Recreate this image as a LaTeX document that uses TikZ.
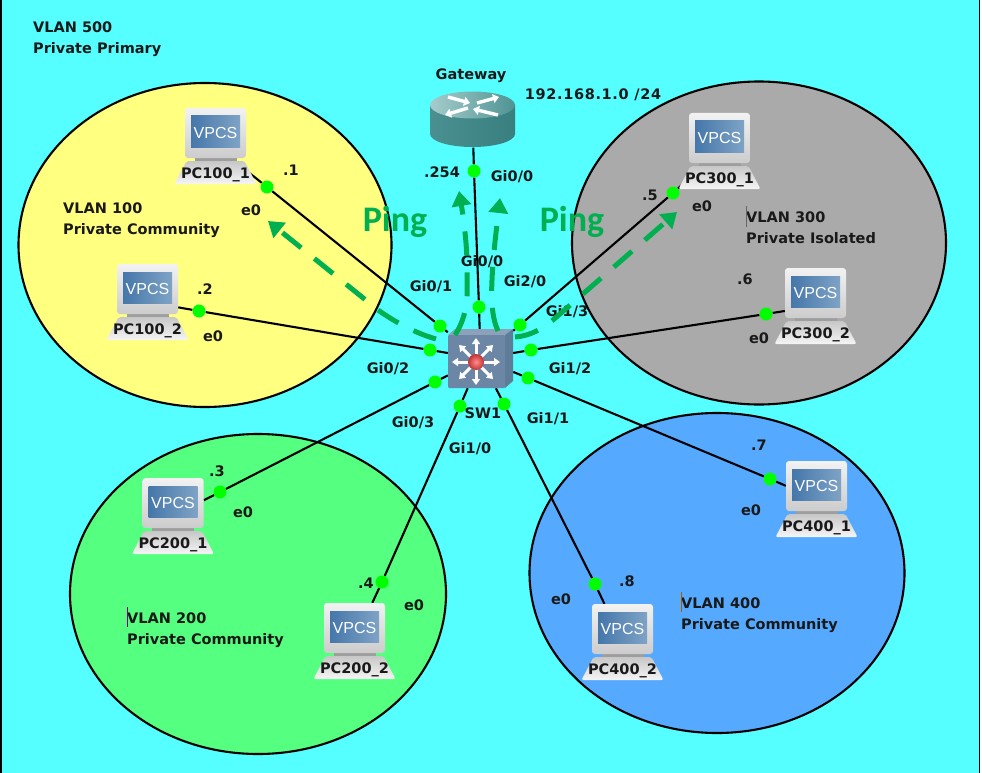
\documentclass[tikz,border=0pt]{standalone}
\usepackage{fontspec}
\setmainfont{DejaVu Sans}
\newfontfamily\pingfont{Carlito}
\newfontfamily\vpcsfont{Liberation Sans}
\usepackage{tikz}
\usetikzlibrary{shapes.geometric, arrows.meta, backgrounds}
\definecolor{lancyan}{HTML}{55FFFF}
\definecolor{vlanyellow}{HTML}{FFFF80}
\definecolor{vlangray}{HTML}{AAAAAA}
\definecolor{vlangreen}{HTML}{55FF80}
\definecolor{vlanblue}{HTML}{55AAFF}
\definecolor{pinggreen}{HTML}{00B050}
\definecolor{portgreen}{HTML}{00FF00}
\definecolor{screendark}{HTML}{4577AA}
\definecolor{screenlight}{HTML}{7FA3C6}
\definecolor{swfront}{HTML}{6C87A6}
\definecolor{swtop}{HTML}{8DA2BA}
\definecolor{swside}{HTML}{5E7B98}
\definecolor{rtdark}{HTML}{3A7F7F}
\definecolor{rtmid}{HTML}{4A9090}
\definecolor{rttop}{HTML}{4F9393}
\definecolor{rtlight}{HTML}{A5CCCC}
\tikzstyle{vlanarea} = [ellipse, draw=black, line width=2.1pt, inner sep=0pt]
\tikzstyle{link} = [draw=black, line width=2.1pt]
\tikzstyle{port} = [circle, fill=portgreen, minimum size=13pt, inner sep=0pt]
\tikzstyle{lbl} = [font=\bfseries\fontsize{14.5}{21}\selectfont, text=black!90, inner sep=0pt]
\tikzstyle{vlanlbl} = [lbl, align=left, anchor=north west]
\tikzstyle{pinglbl} = [font=\pingfont\bfseries\fontsize{36}{36}\selectfont, text=pinggreen, inner sep=0pt]
\tikzstyle{ping} = [draw=pinggreen, line width=5pt, dash pattern=on 24pt off 17pt, -{Triangle[width=19pt,length=15pt]}]
\tikzstyle{swarrow} = [draw=white, line width=3pt, -{Triangle[width=8pt,length=6pt]}]
\tikzstyle{rtarrow} = [draw=white, line width=3.4pt, -{Triangle[width=9pt,length=6pt]}]
\tikzstyle{marker} = [line width=0.8pt]

% one VPCS icon: name, centre x, top y, label
\newcommand{\vpcs}[4]{
  \begin{scope}[shift={(#2,#3)}]
    \node (#1) [minimum width=61pt, minimum height=76pt, inner sep=0pt] at (0,38) {};
    \fill [black!38] (-21,48) rectangle (21,55);
    \shade [top color=black!22, bottom color=black!4, rounded corners=2pt] (-29,53) -- (29,53) -- (41,76) -- (-41,76) -- cycle;
    \shade [top color=black!5, bottom color=black!20, rounded corners=3pt] (-30.5,0) rectangle (30.5,50);
    \shade [left color=screendark, right color=screenlight] (-24.5,8) rectangle (24.5,39);
    \node (#1s) [font=\vpcsfont\fontsize{16}{16}\selectfont, text=white, inner sep=0pt] at (0,25) {VPCS};
    \node (#1l) [lbl] at (0,67) {#4};
  \end{scope}
}

\begin{document}
\begin{tikzpicture}[x=1pt, y=-1pt]
  \useasboundingbox (0,0) rectangle (982,773);

  % Router
  \node (gw) [minimum width=85pt, minimum height=55pt, inner sep=0pt] at (472.5,120) {};
  \shade [left color=rtmid, right color=rtdark] (430,105) -- (430,134) arc [start angle=180, end angle=0, x radius=42.5, y radius=13] -- (515,105) -- cycle;
  \shade [left color=rtlight, right color=rttop] (472.5,105) ellipse [x radius=42.5, y radius=13.5];
  \draw [rtarrow] (448,97) -- (470,103);
  \draw [rtarrow] (477,103) -- (499,97);
  \draw [rtarrow] (468,108) -- (445,115);
  \draw [rtarrow] (498,115) -- (473,109);

  % Switch
  \node (sw) [minimum width=65pt, minimum height=59pt, inner sep=0pt] at (480.5,358.5) {};
  \fill [swtop] (448,335) -- (455,329) -- (513,329) -- (505,335) -- cycle;
  \fill [swside] (505,335) -- (513,329) -- (513,381) -- (505,388) -- cycle;
  \fill [swfront, rounded corners=1pt] (448,335) rectangle (505,388);
  \draw [swarrow] (476,362) -- (500,362);
  \draw [swarrow] (476,362) -- (452,362);
  \draw [swarrow] (476,362) -- (476,338);
  \draw [swarrow] (476,362) -- (476,385);
  \draw [swarrow] (476,362) -- (493,345);
  \draw [swarrow] (476,362) -- (459,345);
  \draw [swarrow] (476,362) -- (493,379);
  \draw [swarrow] (476,362) -- (459,379);
  \shade [inner color=red!45!white, outer color=red!70!black!80!white] (476,362) circle (8);

  % VPCS hosts
  \vpcs{pc100a}{215.5}{108}{PC100\_1}
  \vpcs{pc100b}{147.5}{264}{PC100\_2}
  \vpcs{pc200a}{173}{478}{PC200\_1}
  \vpcs{pc200b}{354.5}{603}{PC200\_2}
  \vpcs{pc300a}{719.5}{113}{PC300\_1}
  \vpcs{pc300b}{815.5}{268}{PC300\_2}
  \vpcs{pc400a}{816.5}{461}{PC400\_1}
  \vpcs{pc400b}{622.5}{604}{PC400\_2}

  % Ports
  \node (dgw) [port] at (474,171) {};
  \node (sgw) [port] at (479,307) {};
  \node (d100a) [port] at (267,187) {};
  \node (s100a) [port] at (440,326) {};
  \node (d100b) [port] at (199,311) {};
  \node (s100b) [port] at (430,350) {};
  \node (d200a) [port] at (220,492) {};
  \node (s200a) [port] at (435,382) {};
  \node (d200b) [port] at (382,582) {};
  \node (s200b) [port] at (460,406) {};
  \node (d300a) [port] at (673,193) {};
  \node (s300a) [port] at (520,325) {};
  \node (d300b) [port] at (766,314) {};
  \node (s300b) [port] at (531,350) {};
  \node (d400a) [port] at (770,479) {};
  \node (s400a) [port] at (528,378) {};
  \node (d400b) [port] at (595,584) {};
  \node (s400b) [port] at (504,404) {};

  % Areas and links stay behind the icons
  \begin{scope}[on background layer]
    \fill [lancyan] (0,0) rectangle (980,773);
    \fill [white] (980,0) rectangle (982,773);
    \draw [line width=1.6pt] (1,0) -- (1,773);
    \draw [line width=1.6pt] (979.5,0) -- (979.5,773);
    \node (vlan100) [vlanarea, fill=vlanyellow, minimum width=373pt, minimum height=324pt] at (205,245) {};
    \node (vlan300) [vlanarea, fill=vlangray, minimum width=374pt, minimum height=323pt] at (759,243) {};
    \node (vlan200) [vlanarea, fill=vlangreen, minimum width=376pt, minimum height=320pt] at (258,594) {};
    \node (vlan400) [vlanarea, fill=vlanblue, minimum width=375pt, minimum height=320pt] at (717,573) {};
    \draw [link] (gw) -- (dgw) -- (sgw) -- (sw);
    \draw [link] (pc100a) -- (d100a) -- (s100a) -- (sw);
    \draw [link] (pc100b) -- (d100b) -- (s100b) -- (sw);
    \draw [link] (pc200a) -- (d200a) -- (s200a) -- (sw);
    \draw [link] (pc200b) -- (d200b) -- (s200b) -- (sw);
    \draw [link] (pc300a) -- (d300a) -- (s300a) -- (sw);
    \draw [link] (pc300b) -- (d300b) -- (s300b) -- (sw);
    \draw [link] (pc400a) -- (d400a) -- (s400a) -- (sw);
    \draw [link] (pc400b) -- (d400b) -- (s400b) -- (sw);
  \end{scope}

  % Area names
  \node (t500) [vlanlbl] at (33,22) {VLAN 500\\Private Primary};
  \node (t100) [vlanlbl] at (63,203) {VLAN 100\\Private Community};
  \node (t200) [vlanlbl] at (127,613) {VLAN 200\\Private Community};
  \node (t300) [vlanlbl] at (746,212) {VLAN 300\\Private Isolated};
  \node (t400) [vlanlbl] at (681,598) {VLAN 400\\Private Community};
  \draw [marker, draw=violet] (127.5,607) -- (127.5,627);
  \draw [marker, draw=black!60] (746.5,206) -- (746.5,227);
  \draw [marker, draw=orange!70!black] (681.5,592) -- (681.5,612);

  % Top labels
  \node (tgw) [lbl] at (471,76) {Gateway};
  \node (tnet) [lbl] at (593,95) {\addfontfeature{LetterSpace=4.5}192.168.1.0 /24};
  \node (t254) [lbl] at (442,172) {.254};
  \node (tgw0) [lbl] at (512,177) {Gi0/0};
  \node (tsw) [lbl] at (483,413) {SW1};

  % Switch port labels
  \node (gi00) [lbl] at (482,262) {Gi0/0};
  \node (gi01) [lbl] at (431,287) {Gi0/1};
  \node (gi20) [lbl] at (525,282) {Gi2/0};
  \node (gi13) [lbl] at (567,312) {Gi1/3};
  \node (gi12) [lbl] at (570,369) {Gi1/2};
  \node (gi02) [lbl] at (388,369) {Gi0/2};
  \node (gi03) [lbl] at (413,423) {Gi0/3};
  \node (gi10) [lbl] at (470,449) {Gi1/0};
  \node (gi11) [lbl] at (548,419) {Gi1/1};

  % Host addresses
  \node (ip1) [lbl] at (291,170) {.1};
  \node (e1) [lbl] at (251,210) {e0};
  \node (ip2) [lbl] at (205,289) {.2};
  \node (e2) [lbl] at (213,336) {e0};
  \node (ip3) [lbl] at (217,471) {.3};
  \node (e3) [lbl] at (243,512) {e0};
  \node (ip4) [lbl] at (366,583) {.4};
  \node (e4) [lbl] at (414,605) {e0};
  \node (ip5) [lbl] at (650,195) {.5};
  \node (e5) [lbl] at (702,206) {e0};
  \node (ip6) [lbl] at (745,279) {.6};
  \node (e6) [lbl] at (759,338) {e0};
  \node (ip7) [lbl] at (759,445) {.7};
  \node (e7) [lbl] at (751,510) {e0};
  \node (ip8) [lbl] at (627,581) {.8};
  \node (e8) [lbl] at (561,599) {e0};

  % Ping paths
  \node (ping1) [pinglbl] at (395,222) {Ping};
  \node (ping2) [pinglbl] at (572,222) {Ping};
  \coordinate (tip100) at (268,221);
  \coordinate (tipgwa) at (459,191);
  \coordinate (tipgwb) at (500,198);
  \coordinate (tip300) at (677,212);
  \draw [ping] (436,339) .. controls (415,333) and (395,322) .. (378,310) -- (tip100);
  \draw [ping] (455,335) .. controls (466,318) and (468,300) .. (467,280) -- (467,260) .. controls (466,235) and (463,215) .. (tipgwa);
  \draw [ping] (498,331) .. controls (492,318) and (491,300) .. (492,280) .. controls (493,255) and (497,225) .. (tipgwb);
  \draw [ping] (515,337) .. controls (530,336) and (542,329) .. (553,320) -- (tip300);
\end{tikzpicture}
\end{document}
